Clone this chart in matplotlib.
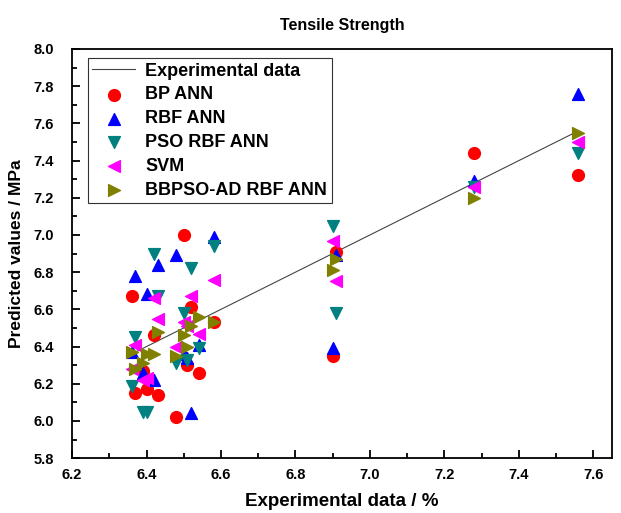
import matplotlib.pyplot as plt

# experimental values (shared x for every model)
exp_vals = [6.36, 6.37, 6.39, 6.40, 6.42, 6.43, 6.48, 6.50,
            6.51, 6.52, 6.54, 6.58, 6.90, 6.91, 7.28, 7.56]

bp_ann = [6.67, 6.15, 6.27, 6.17, 6.46, 6.14, 6.02, 7.00,
          6.30, 6.61, 6.26, 6.53, 6.35, 6.91, 7.44, 7.32]
rbf_ann = [6.37, 6.78, 6.26, 6.68, 6.22, 6.84, 6.89, 6.36,
           6.34, 6.04, 6.41, 6.99, 6.39, 6.89, 7.29, 7.76]
pso_rbf_ann = [6.19, 6.45, 6.05, 6.05, 6.90, 6.67, 6.31, 6.58,
               6.33, 6.82, 6.39, 6.94, 7.05, 6.58, 7.26, 7.44]
svm = [6.28, 6.41, 6.22, 6.23, 6.66, 6.55, 6.40, 6.53,
       6.51, 6.67, 6.47, 6.76, 6.97, 6.75, 7.26, 7.50]
bbpso_rbf_ann = [6.37, 6.28, 6.31, 6.36, 6.36, 6.48, 6.35, 6.46,
                 6.40, 6.51, 6.56, 6.53, 6.81, 6.87, 7.20, 7.55]

plt.rcParams['font.family'] = ['Liberation Sans', 'DejaVu Sans']
plt.rcParams['font.weight'] = 'bold'

fig = plt.figure(figsize=(6.21, 5.13), dpi=100)
ax = fig.add_axes([0.116, 0.107, 0.8695, 0.7975])

ax.plot([min(exp_vals), max(exp_vals)], [min(exp_vals), max(exp_vals)],
        color='#444444', lw=0.8, label='Experimental data', zorder=1)
ms = 72
ax.scatter(exp_vals, bp_ann, marker='o', s=ms, color='#ff0000', label='BP ANN', zorder=2)
ax.scatter(exp_vals, rbf_ann, marker='^', s=ms, color='#0000ff', label='RBF ANN', zorder=3)
ax.scatter(exp_vals, pso_rbf_ann, marker='v', s=ms, color='#008080', label='PSO RBF ANN', zorder=4)
ax.scatter(exp_vals, svm, marker='<', s=ms, color='#ff00ff', label='SVM', zorder=5)
ax.scatter(exp_vals, bbpso_rbf_ann, marker='>', s=ms, color='#808000', label='BBPSO-AD RBF ANN', zorder=6)

ax.set_xlim(6.2, 7.65)
ax.set_ylim(5.8, 8.0)
ax.set_xticks([6.2, 6.4, 6.6, 6.8, 7.0, 7.2, 7.4, 7.6])
ax.set_xticks([6.3, 6.5, 6.7, 6.9, 7.1, 7.3, 7.5], minor=True)
ax.set_yticks([5.8, 6.0, 6.2, 6.4, 6.6, 6.8, 7.0, 7.2, 7.4, 7.6, 7.8, 8.0])
ax.set_yticks([5.9, 6.1, 6.3, 6.5, 6.7, 6.9, 7.1, 7.3, 7.5, 7.7, 7.9], minor=True)
ax.tick_params(which='both', direction='in', top=False, right=False, labelsize=10.5, width=1.3)
ax.tick_params(which='major', length=6)
ax.tick_params(which='minor', length=3.5)
ax.tick_params(axis='x', which='major', pad=7)
ax.tick_params(axis='y', which='major', pad=13)
for lab in ax.get_xticklabels() + ax.get_yticklabels():
    lab.set_fontweight('bold')
for sp in ax.spines.values():
    sp.set_linewidth(1.3)

ax.set_title('Tensile Strength', fontsize=11.5, fontweight='bold', pad=14)
ax.set_xlabel('Experimental data / %', fontsize=13.5, fontweight='bold', labelpad=8)
ax.set_ylabel('Predicted values / MPa', fontsize=12.5, fontweight='bold', labelpad=7)

leg = ax.legend(loc='upper left', bbox_to_anchor=(0.012, 1.0),
                prop={'weight': 'bold', 'size': 13}, fancybox=False, edgecolor='#333333',
                framealpha=1, handlelength=2.4, borderpad=0.25, labelspacing=0.38,
                handletextpad=0.55, scatterpoints=1)
leg.get_frame().set_linewidth(0.8)

fig.savefig('out.png', dpi=100)
